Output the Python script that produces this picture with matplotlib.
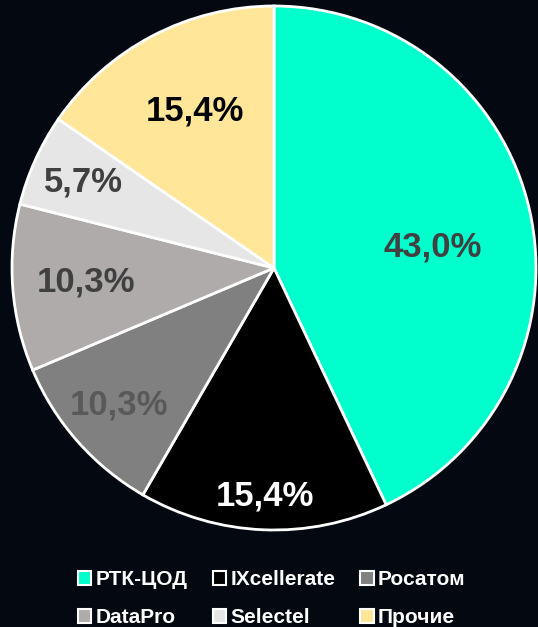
import numpy as np
import matplotlib.pyplot as plt
from matplotlib.patches import Patch

# Market shares (%)
names = ['РТК-ЦОД', 'IXcellerate', 'Росатом', 'DataPro', 'Selectel', 'Прочие']
shares = [43.0, 15.4, 10.3, 10.3, 5.7, 15.4]
labels = ['43,0%', '15,4%', '10,3%', '10,3%', '5,7%', '15,4%']

colors = ['#00FFCC', '#000000', '#808080', '#AFABAB', '#E6E6E6', '#FFE699']
text_colors = ['#404040', '#FFFFFF', '#595959', '#404040', '#404040', '#000000']
label_dist = [0.61, 0.87, 0.79, 0.72, 0.80, 0.67]
label_shift = [-5, 0, 0, 0, 0, -1]   # degrees, small nudges

bg = '#040810'
plt.rcParams['font.family'] = ['Liberation Sans', 'DejaVu Sans']

fig = plt.figure(figsize=(5.38, 6.27), dpi=100, facecolor=bg)
W, H = 538, 627
cx, cy, r = 274, 268, 262
ax = fig.add_axes([(cx - r) / W, 1 - (cy + r) / H, 2 * r / W, 2 * r / H])
ax.set_facecolor(bg)

wedges, _ = ax.pie(shares, colors=colors, startangle=90, counterclock=False,
                   radius=1.0, wedgeprops=dict(edgecolor='white', linewidth=2))
for w in wedges:
    w.set_clip_on(False)
ax.set_xlim(-1, 1)
ax.set_ylim(-1, 1)
ax.set_aspect('equal')
ax.axis('off')

for w, lab, tc, d, sh in zip(wedges, labels, text_colors, label_dist, label_shift):
    ang = np.deg2rad((w.theta1 + w.theta2) / 2 + sh)
    ax.text(d * np.cos(ang), d * np.sin(ang), lab, ha='center', va='center',
            fontsize=25, fontweight='bold', color=tc)

# legend: row-wise order for ncol=3
handles = [Patch(facecolor=c, edgecolor='white', linewidth=1.5) for c in colors]
order = [0, 3, 1, 4, 2, 5]
leg = fig.legend([handles[i] for i in order], [names[i] for i in order],
                 ncol=3, loc='center', bbox_to_anchor=(0.505, 1 - 598.5 / H),
                 frameon=False, prop=dict(size=15, weight='bold'),
                 labelcolor='white', handlelength=0.65, handleheight=0.65,
                 handletextpad=0.2, columnspacing=1.2, labelspacing=0.92)

fig.savefig('out.png', dpi=100, facecolor=bg)
